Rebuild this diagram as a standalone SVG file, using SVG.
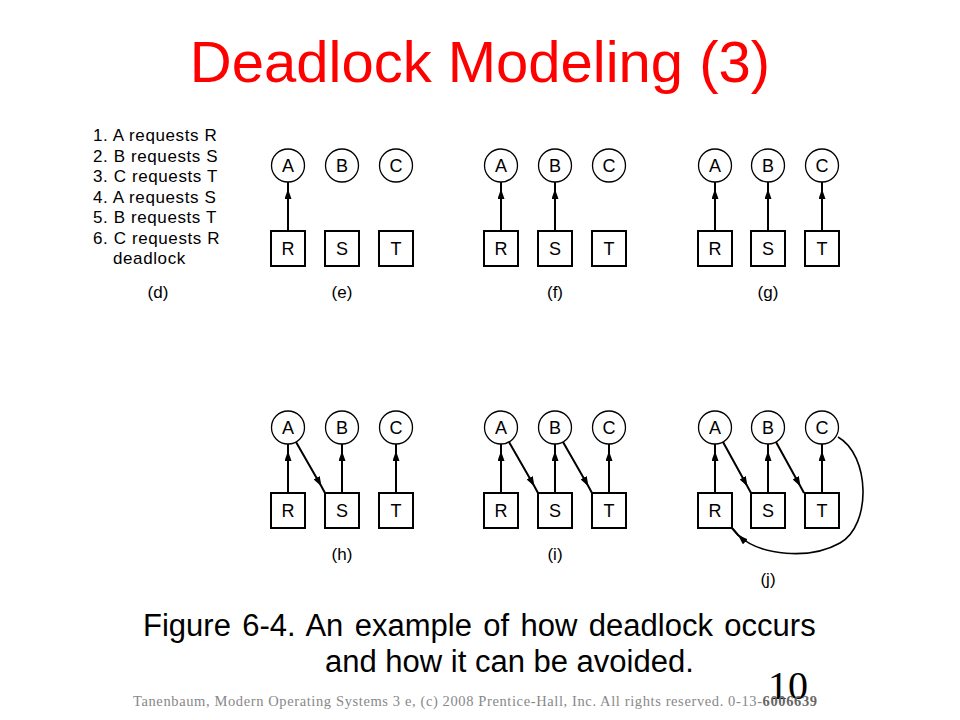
<svg xmlns="http://www.w3.org/2000/svg" width="960" height="720" viewBox="0 0 960 720">
<style>
.t{font-family:"Liberation Sans",Arial,sans-serif;fill:#000}
.n{font-family:"Liberation Sans",Arial,sans-serif;font-size:18px;text-anchor:middle;fill:#000}
.l{font-family:"Liberation Sans",Arial,sans-serif;font-size:17px;text-anchor:middle;fill:#000}
.c{fill:#fff;stroke:#000;stroke-width:1.3}
.s{fill:#fff;stroke:#000;stroke-width:2}
.a{fill:none;stroke:#000;stroke-width:2;marker-mid:url(#ah)}
.cv{fill:none;stroke:#000;stroke-width:1.6}
</style>
<defs>
<marker id="ah" viewBox="0 0 10 7" refX="10" refY="3.5" markerWidth="10" markerHeight="7" markerUnits="userSpaceOnUse" orient="auto">
<path d="M0,0 L10,3.5 L0,7 Z" fill="#000"/>
</marker>
</defs>
<rect width="960" height="720" fill="#fff"/>
<text x="480" y="82" font-family="Liberation Sans,Arial,sans-serif" font-size="58" fill="#ff0000" text-anchor="middle">Deadlock Modeling (3)</text>

<g id="list" class="t" font-size="17" letter-spacing="0.6">
<text x="93" y="141">1. A requests R</text>
<text x="93" y="161.5">2. B requests S</text>
<text x="93" y="182">3. C requests T</text>
<text x="93" y="202.5">4. A requests S</text>
<text x="93" y="223">5. B requests T</text>
<text x="93" y="243.5">6. C requests R</text>
<text x="113" y="264">deadlock</text>
</g>

<g id="labels" class="l">
<text x="158" y="298">(d)</text>
<text x="342" y="298">(e)</text>
<text x="555" y="298">(f)</text>
<text x="768" y="298">(g)</text>
<text x="342" y="560">(h)</text>
<text x="555" y="560">(i)</text>
<text x="768" y="585">(j)</text>
</g>

<g id="connectors">
<path class="a" d="M288 231 V189 V182"/>
<path class="a" d="M501 231 V189 V182"/>
<path class="a" d="M555 231 V189 V182"/>
<path class="a" d="M715 231 V189 V182"/>
<path class="a" d="M768 231 V189 V182"/>
<path class="a" d="M822 231 V189 V182"/>
<path class="a" d="M288 493 V451 V444"/>
<path class="a" d="M342 493 V451 V444"/>
<path class="a" d="M396 493 V451 V444"/>
<path class="a" d="M296 442 L321.5 486.5 L325 493"/>
<path class="a" d="M501 493 V451 V444"/>
<path class="a" d="M555 493 V451 V444"/>
<path class="a" d="M609 493 V451 V444"/>
<path class="a" d="M509 442 L534.5 486.5 L538 493"/>
<path class="a" d="M563 442 L588.5 486.5 L592 493"/>
<path class="a" d="M715 493 V451 V444"/>
<path class="a" d="M768 493 V451 V444"/>
<path class="a" d="M822 493 V451 V444"/>
<path class="a" d="M723 442 L747.5 486.5 L751 493"/>
<path class="a" d="M776 442 L800.5 486.5 L804 493"/>
<path class="cv" d="M838 437 C870 455 872 525 840 543 C810 560 760 556 738 535 L732 528"/>
<path class="a" d="M746 541 L738 535 L732 528" stroke-width="1.6"/>
</g>

<g id="panel-e">
<g id="e-A"><circle class="c" cx="288" cy="165.5" r="16.5"/><text class="n" x="288" y="172">A</text></g>
<g id="e-B"><circle class="c" cx="342" cy="165.5" r="16.5"/><text class="n" x="342" y="172">B</text></g>
<g id="e-C"><circle class="c" cx="396" cy="165.5" r="16.5"/><text class="n" x="396" y="172">C</text></g>
<g id="e-R"><rect class="s" x="271" y="231" width="34" height="35"/><text class="n" x="288" y="255">R</text></g>
<g id="e-S"><rect class="s" x="325" y="231" width="34" height="35"/><text class="n" x="342" y="255">S</text></g>
<g id="e-T"><rect class="s" x="379" y="231" width="34" height="35"/><text class="n" x="396" y="255">T</text></g>
</g>
<g id="panel-f">
<g id="f-A"><circle class="c" cx="501" cy="165.5" r="16.5"/><text class="n" x="501" y="172">A</text></g>
<g id="f-B"><circle class="c" cx="555" cy="165.5" r="16.5"/><text class="n" x="555" y="172">B</text></g>
<g id="f-C"><circle class="c" cx="609" cy="165.5" r="16.5"/><text class="n" x="609" y="172">C</text></g>
<g id="f-R"><rect class="s" x="484" y="231" width="34" height="35"/><text class="n" x="501" y="255">R</text></g>
<g id="f-S"><rect class="s" x="538" y="231" width="34" height="35"/><text class="n" x="555" y="255">S</text></g>
<g id="f-T"><rect class="s" x="592" y="231" width="34" height="35"/><text class="n" x="609" y="255">T</text></g>
</g>
<g id="panel-g">
<g id="g-A"><circle class="c" cx="715" cy="165.5" r="16.5"/><text class="n" x="715" y="172">A</text></g>
<g id="g-B"><circle class="c" cx="768" cy="165.5" r="16.5"/><text class="n" x="768" y="172">B</text></g>
<g id="g-C"><circle class="c" cx="822" cy="165.5" r="16.5"/><text class="n" x="822" y="172">C</text></g>
<g id="g-R"><rect class="s" x="698" y="231" width="34" height="35"/><text class="n" x="715" y="255">R</text></g>
<g id="g-S"><rect class="s" x="751" y="231" width="34" height="35"/><text class="n" x="768" y="255">S</text></g>
<g id="g-T"><rect class="s" x="805" y="231" width="34" height="35"/><text class="n" x="822" y="255">T</text></g>
</g>
<g id="panel-h">
<g id="h-A"><circle class="c" cx="288" cy="427.5" r="16.5"/><text class="n" x="288" y="434">A</text></g>
<g id="h-B"><circle class="c" cx="342" cy="427.5" r="16.5"/><text class="n" x="342" y="434">B</text></g>
<g id="h-C"><circle class="c" cx="396" cy="427.5" r="16.5"/><text class="n" x="396" y="434">C</text></g>
<g id="h-R"><rect class="s" x="271" y="493" width="34" height="35"/><text class="n" x="288" y="517">R</text></g>
<g id="h-S"><rect class="s" x="325" y="493" width="34" height="35"/><text class="n" x="342" y="517">S</text></g>
<g id="h-T"><rect class="s" x="379" y="493" width="34" height="35"/><text class="n" x="396" y="517">T</text></g>
</g>
<g id="panel-i">
<g id="i-A"><circle class="c" cx="501" cy="427.5" r="16.5"/><text class="n" x="501" y="434">A</text></g>
<g id="i-B"><circle class="c" cx="555" cy="427.5" r="16.5"/><text class="n" x="555" y="434">B</text></g>
<g id="i-C"><circle class="c" cx="609" cy="427.5" r="16.5"/><text class="n" x="609" y="434">C</text></g>
<g id="i-R"><rect class="s" x="484" y="493" width="34" height="35"/><text class="n" x="501" y="517">R</text></g>
<g id="i-S"><rect class="s" x="538" y="493" width="34" height="35"/><text class="n" x="555" y="517">S</text></g>
<g id="i-T"><rect class="s" x="592" y="493" width="34" height="35"/><text class="n" x="609" y="517">T</text></g>
</g>
<g id="panel-j">
<g id="j-A"><circle class="c" cx="715" cy="427.5" r="16.5"/><text class="n" x="715" y="434">A</text></g>
<g id="j-B"><circle class="c" cx="768" cy="427.5" r="16.5"/><text class="n" x="768" y="434">B</text></g>
<g id="j-C"><circle class="c" cx="822" cy="427.5" r="16.5"/><text class="n" x="822" y="434">C</text></g>
<g id="j-R"><rect class="s" x="698" y="493" width="34" height="35"/><text class="n" x="715" y="517">R</text></g>
<g id="j-S"><rect class="s" x="751" y="493" width="34" height="35"/><text class="n" x="768" y="517">S</text></g>
<g id="j-T"><rect class="s" x="805" y="493" width="34" height="35"/><text class="n" x="822" y="517">T</text></g>
</g>

<g id="caption" class="t" font-size="31">
<text x="143" y="636" word-spacing="2.8">Figure 6-4. An example of how deadlock occurs</text>
<text x="325" y="672">and how it can be avoided.</text>
</g>
<text x="768" y="699" font-family="Liberation Serif,Times New Roman,serif" font-size="40" fill="#000">10</text>
<text x="133" y="706" font-family="Liberation Serif,Times New Roman,serif" font-size="14.5" fill="#888" textLength="684" lengthAdjust="spacing">Tanenbaum, Modern Operating Systems 3 e, (c) 2008 Prentice-Hall, Inc. All rights reserved. 0-13-<tspan font-weight="bold" fill="#666">6006639</tspan></text>
</svg>
